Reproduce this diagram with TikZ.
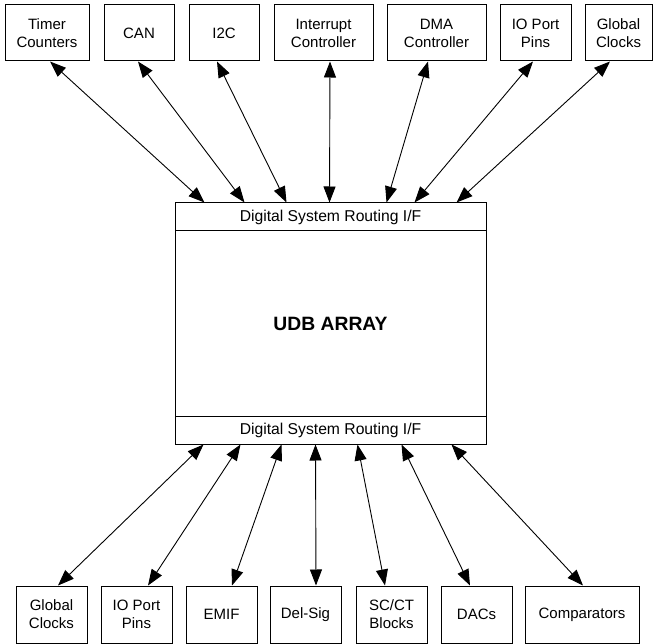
\documentclass[tikz,border=0pt]{standalone}
\usepackage{fontspec}
\setmainfont{Liberation Sans}
\usetikzlibrary{arrows.meta}
\begin{document}
\begin{tikzpicture}[x=1pt,y=-1pt,
  box/.style={draw,line width=1pt,inner sep=0pt,align=center,font=\fontsize{15}{18}\selectfont},
  topbox/.style={box,minimum height=56pt},
  botbox/.style={box,minimum height=57pt},
  strip/.style={box,minimum width=311pt,minimum height=28pt,font=\fontsize{15.7}{18}\selectfont},
  arr/.style={line width=0.9pt,{Triangle[length=16pt,width=12pt]}-{Triangle[length=16pt,width=12pt]}}]
\useasboundingbox (0,0) rectangle (653,644);
% top boxes
\node[topbox,minimum width=84pt] (t1) at (47,33) {Timer\\Counters};
\node[topbox,minimum width=70pt] (t2) at (139,33) {CAN};
\node[topbox,minimum width=70pt] (t3) at (224,33) {I2C};
\node[topbox,minimum width=99pt] (t4) at (323.5,33) {Interrupt\\Controller};
\node[topbox,minimum width=99pt] (t5) at (436.5,33) {DMA\\Controller};
\node[topbox,minimum width=71pt] (t6) at (535.5,33) {IO Port\\Pins};
\node[topbox,minimum width=67pt] (t7) at (618.5,33) {Global\\Clocks};
% main block
\node[box,minimum width=311pt,minimum height=241pt,font=\bfseries\fontsize{19.3}{22}\selectfont] (udb) at (330.5,323.5) {UDB ARRAY};
\node[strip,anchor=north] (sr1) at (udb.north) {Digital System Routing I/F};
\node[strip,anchor=south] (sr2) at (udb.south) {Digital System Routing I/F};
% bottom boxes
\node[botbox,minimum width=71pt] (b1) at (51.5,614.5) {Global\\Clocks};
\node[botbox,minimum width=71pt] (b2) at (136.5,614.5) {IO Port\\Pins};
\node[botbox,minimum width=71pt] (b3) at (221.5,614.5) {EMIF};
\node[botbox,minimum width=71pt] (b4) at (305.5,614.5) {Del-Sig};
\node[botbox,minimum width=71pt] (b5) at (391.5,614.5) {SC/CT\\Blocks};
\node[botbox,minimum width=71pt] (b6) at (476.5,614.5) {DACs};
\node[botbox,minimum width=114pt] (b7) at (582,614.5) {Comparators};
% top arrows
\draw[arr] ([xshift=3pt]t1.south) -- ([xshift=30pt]sr1.north west);
\draw[arr] ([xshift=-1pt]t2.south) -- ([xshift=70pt]sr1.north west);
\draw[arr] ([xshift=-7pt]t3.south) -- ([xshift=112pt]sr1.north west);
\draw[arr] ([xshift=6.5pt]t4.south) -- ([xshift=155pt]sr1.north west);
\draw[arr] ([xshift=-8.5pt]t5.south) -- ([xshift=212pt]sr1.north west);
\draw[arr] ([xshift=-2.5pt]t6.south) -- ([xshift=240pt]sr1.north west);
\draw[arr] ([xshift=-8.5pt]t7.south) -- ([xshift=282pt]sr1.north west);
% bottom arrows
\draw[arr] ([xshift=29pt]sr2.south west) -- ([xshift=6.5pt]b1.north);
\draw[arr] ([xshift=66pt]sr2.south west) -- ([xshift=11.5pt]b2.north);
\draw[arr] ([xshift=107pt]sr2.south west) -- ([xshift=10.5pt]b3.north);
\draw[arr] ([xshift=141pt]sr2.south west) -- ([xshift=10.5pt]b4.north);
\draw[arr] ([xshift=183pt]sr2.south west) -- ([xshift=-6.5pt]b5.north);
\draw[arr] ([xshift=227pt]sr2.south west) -- ([xshift=-6.5pt]b6.north);
\draw[arr] ([xshift=277pt]sr2.south west) -- ([xshift=1pt]b7.north);
\end{tikzpicture}
\end{document}
